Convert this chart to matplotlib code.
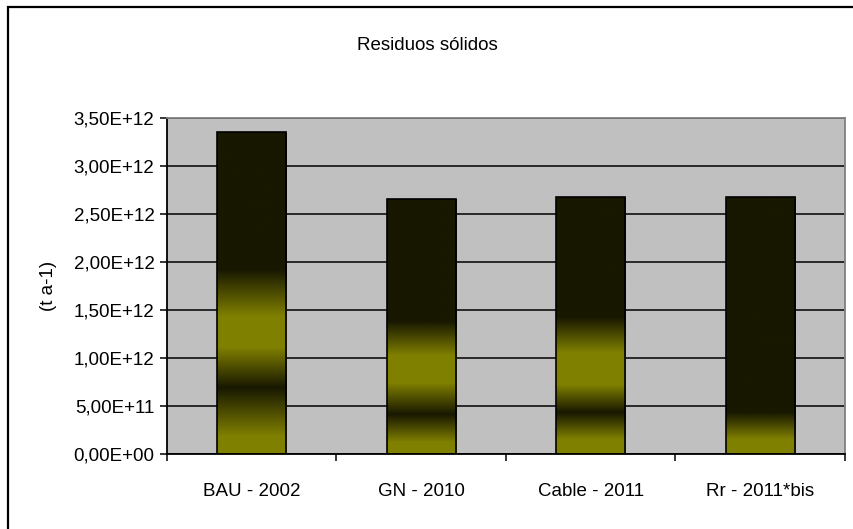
import numpy as np
import matplotlib
matplotlib.use("Agg")
import matplotlib.pyplot as plt
from matplotlib.patches import Rectangle
from matplotlib.ticker import FuncFormatter, MultipleLocator

plt.rcParams['font.family'] = ['Liberation Sans', 'DejaVu Sans']

# data
escenarios = ['BAU - 2002', 'GN - 2010', 'Cable - 2011', 'Rr - 2011*bis']
residuos = [3.35e12, 2.66e12, 2.68e12, 2.68e12]

# shading bands inside each bar (level, 1 = olive / 0 = dark)
niveles = [[0, 0.18e12, 0.69e12, 1.11e12, 1.43e12, 1.92e12],
           [0, 0.12e12, 0.41e12, 0.74e12, 1.02e12, 1.38e12],
           [0, 0.15e12, 0.43e12, 0.72e12, 1.05e12, 1.42e12],
           [0, 0.15e12, 0.43e12]]
mezcla = [[1, 1, 0, 1, 1, 0],
          [1, 1, 0, 1, 1, 0],
          [1, 1, 0, 1, 1, 0],
          [1, 1, 0]]

oscuro = np.array([0x18, 0x18, 0x00]) / 255
oliva = np.array([0x80, 0x80, 0x00]) / 255

fig = plt.figure(figsize=(8.54, 5.29), dpi=100)
fig.patches.append(Rectangle((8/854, -0.1), 1.2, 1 - 7/529 + 0.1, transform=fig.transFigure,
                             fill=False, edgecolor='black', linewidth=1.6))

ax = fig.add_axes([167/854, 1 - 454/529, (845-167)/854, (454-118)/529])
ax.set_facecolor('#c0c0c0')

x = np.arange(len(escenarios))
ancho = 0.41
barras = ax.bar(x, residuos, ancho, facecolor='none', edgecolor='black', linewidth=1.2, zorder=3)

for i, b in enumerate(barras):
    yy = np.linspace(0, residuos[i], 400)
    m = np.interp(yy, niveles[i], mezcla[i])
    col = oscuro[None, :] + m[:, None] * (oliva - oscuro)[None, :]
    img = ax.imshow(col[:, None, :], extent=[x[i] - ancho/2, x[i] + ancho/2, 0, residuos[i]],
                    origin='lower', aspect='auto', zorder=2.5, interpolation='bilinear')
    img.set_clip_path(b)

ax.set_xlim(-0.5, len(escenarios) - 0.5)
ax.set_ylim(0, 3.5e12)
ax.yaxis.set_major_locator(MultipleLocator(0.5e12))
ax.yaxis.set_major_formatter(FuncFormatter(lambda v, p: f"{v:.2E}".replace('.', ',')))
ax.grid(axis='y', color='black', linewidth=1.1, zorder=1)
ax.set_axisbelow(True)

ax.set_xticks(x)
ax.set_xticklabels(escenarios, fontsize=13.5)
ax.set_xticks(np.arange(len(escenarios) + 1) - 0.5, minor=True)
ax.tick_params(axis='x', which='major', length=0, pad=21)
ax.tick_params(axis='x', which='minor', length=5, width=1.1, direction='out')
ax.tick_params(axis='y', length=5, width=1.1, direction='out', labelsize=13.5, pad=4)

for s in ['left', 'bottom']:
    ax.spines[s].set_color('black')
    ax.spines[s].set_linewidth(1.3)
for s in ['top', 'right']:
    ax.spines[s].set_color('#808080')
    ax.spines[s].set_linewidth(1.3)

ax.set_ylabel('(t a-1)', fontsize=13.5, labelpad=12)
fig.text(0.5, 1 - 45/529, 'Residuos sólidos', ha='center', va='center', fontsize=13.5)

fig.savefig('out.png', dpi=100)
